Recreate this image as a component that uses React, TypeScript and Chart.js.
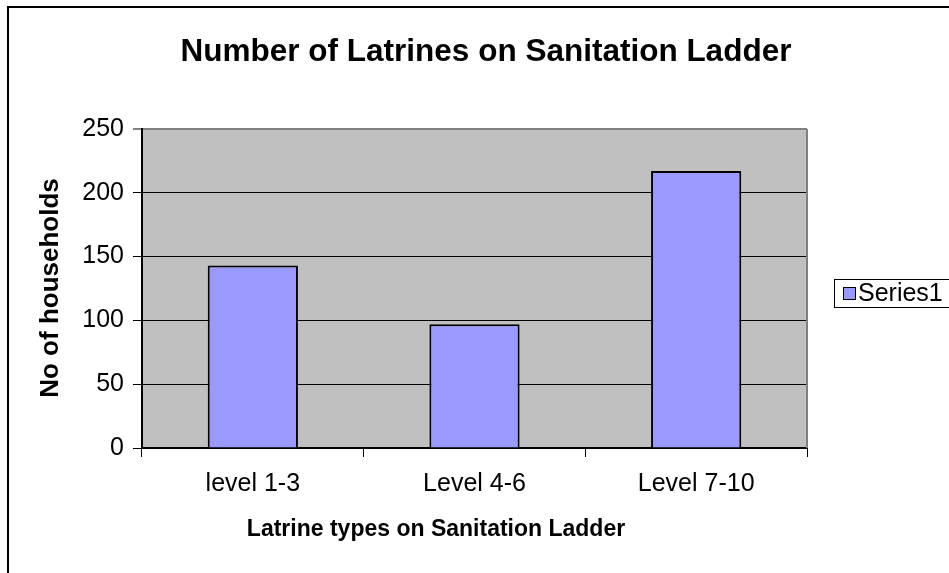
import React, { useEffect, useRef } from "react";
import { Chart, registerables } from "chart.js";

Chart.register(...registerables);

const categories = ["level 1-3", "Level 4-6", "Level 7-10"];
const series1 = [143, 97, 217];
const seriesName = "Series1";
const chartTitle = "Number of Latrines on Sanitation Ladder";
const xTitle = "Latrine types on Sanitation Ladder";
const yTitle = "No of households";

const FONT = '"Liberation Sans", Arial, sans-serif';
const BAR = "#9999FF";

const decor = {
  id: "decor",
  beforeDraw(chart: any) {
    const { ctx, chartArea: a } = chart;
    ctx.save();
    ctx.fillStyle = "#fff";
    ctx.fillRect(0, 0, chart.width, chart.height);
    ctx.strokeStyle = "#000";
    ctx.lineWidth = 2;
    ctx.strokeRect(8, 7, 2000, 2000);
    ctx.fillStyle = "#C0C0C0";
    ctx.fillRect(a.left, a.top, a.right - a.left, a.bottom - a.top);
    ctx.restore();
  },
  afterDraw(chart: any) {
    const { ctx, chartArea: a } = chart;
    ctx.save();
    ctx.strokeStyle = "#808080";
    ctx.lineWidth = 2;
    ctx.beginPath();
    ctx.moveTo(a.right, a.top);
    ctx.lineTo(a.right, a.bottom);
    ctx.stroke();
    ctx.fillStyle = "#000";
    ctx.textAlign = "center";
    ctx.textBaseline = "middle";
    ctx.font = `bold 31.5px ${FONT}`;
    ctx.fillText(chartTitle, 486, 52);
    ctx.font = `bold 23px ${FONT}`;
    ctx.fillText(xTitle, 436, 530);
    ctx.save();
    ctx.translate(51, 288);
    ctx.rotate(-Math.PI / 2);
    ctx.font = `bold 26px ${FONT}`;
    ctx.fillText(yTitle, 0, 0);
    ctx.restore();
    ctx.fillStyle = "#fff";
    ctx.fillRect(834, 279, 200, 28);
    ctx.strokeStyle = "#000";
    ctx.lineWidth = 1;
    ctx.strokeRect(834.5, 279.5, 200, 28);
    ctx.fillStyle = BAR;
    ctx.fillRect(843, 287, 12, 12);
    ctx.strokeRect(843.5, 287.5, 12, 12);
    ctx.fillStyle = "#000";
    ctx.textAlign = "left";
    ctx.font = `25px ${FONT}`;
    ctx.fillText(seriesName, 858, 294);
    ctx.restore();
  },
};

export default function App() {
  const ref = useRef<HTMLCanvasElement>(null);
  useEffect(() => {
    document.body.style.margin = "0";
    const chart = new Chart(ref.current!, {
      type: "bar",
      data: {
        labels: categories,
        datasets: [
          {
            label: seriesName,
            data: series1,
            backgroundColor: BAR,
            borderColor: "#000",
            borderWidth: 2,
            barPercentage: 0.407,
            categoryPercentage: 1,
          },
        ],
      },
      options: {
        animation: false,
        responsive: false,
        events: [],
        layout: { padding: { top: 129, right: 142, left: 0, bottom: 0 } },
        plugins: { legend: { display: false }, title: { display: false }, tooltip: { enabled: false } },
        scales: {
          x: {
            afterFit: (s: any) => { s.height = 125; },
            grid: { drawOnChartArea: false, color: "#000", tickLength: 9, lineWidth: 1, offset: true },
            border: { color: "#000", width: 2 },
            ticks: { color: "#000", font: { family: FONT, size: 25 }, padding: 12 },
          },
          y: {
            min: 0,
            max: 250,
            afterFit: (s: any) => { s.width = 142; },
            grid: {
              color: (c: any) => (c.tick && c.tick.value === 250 ? "#808080" : "#000"),
              lineWidth: (c: any) => (c.tick && c.tick.value === 250 ? 2 : 1),
              tickLength: 9,
            },
            border: { color: "#000", width: 2 },
            ticks: { stepSize: 50, color: "#000", font: { family: FONT, size: 25 }, padding: 9 },
          },
        },
      },
      plugins: [decor],
    });
    return () => chart.destroy();
  }, []);
  return <canvas ref={ref} width={949} height={573} style={{ display: "block" }} />;
}
